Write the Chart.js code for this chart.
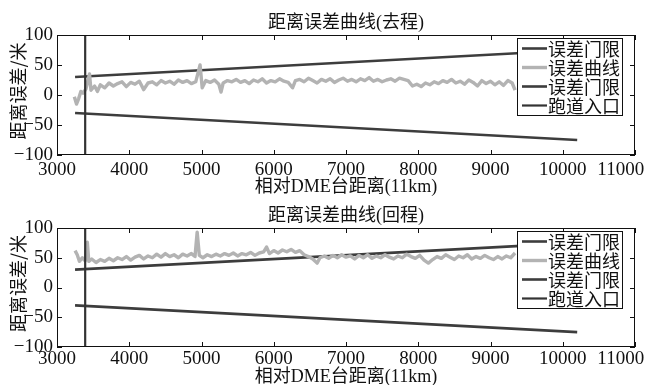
<!DOCTYPE html>
<html>
<head>
<meta charset="utf-8">
<script src="https://cdn.jsdelivr.net/npm/chart.js@4.4.1/dist/chart.umd.min.js"></script>
<style>
    body { margin: 0; background: #fff; width: 649px; height: 385px; overflow: hidden; position: relative; }
    canvas { position: absolute; left: 0; }
    #goChart { top: 0; }
    #backChart { top: 192px; }
</style>
</head>
<body>
<canvas id="goChart" width="649" height="200"></canvas>
<canvas id="backChart" width="649" height="193"></canvas>
<script>
// DME distance error, outbound (去程) and return (回程)

const legendLabels = ['误差门限', '误差曲线', '误差门限', '跑道入口'];
const xTickLabels = ['3000', '4000', '5000', '6000', '7000', '8000', '9000', '10000', '11000'];
const yTickLabels = ['−100', '−50', '0', '50', '100'];

// error limits (straight lines) and runway entrance
const limitDist = [3250, 10200];
const upperLimit = [30, 75];
const lowerLimit = [-30, -75];
const runwayDist = [3390, 3390];
const runwayErr = [-100, 100];

// outbound error curve
const goDist = [
    3240, 3270, 3300, 3330, 3360, 3400, 3450, 3470, 3520, 3560,
    3600, 3660, 3720, 3780, 3840, 3900, 3960, 4020, 4080, 4140,
    4200, 4260, 4320, 4380, 4440, 4500, 4560, 4620, 4680, 4740,
    4800, 4860, 4920, 4980, 5010, 5060, 5120, 5180, 5240, 5270,
    5300, 5360, 5420, 5480, 5540, 5600, 5660, 5720, 5780, 5840,
    5900, 5960, 6020, 6080, 6140, 6200, 6260, 6300, 6360, 6420,
    6480, 6540, 6600, 6660, 6720, 6780, 6840, 6900, 6960, 7020,
    7080, 7140, 7200, 7260, 7320, 7380, 7440, 7500, 7560, 7620,
    7680, 7740, 7800, 7860, 7920, 7980, 8040, 8100, 8160, 8220,
    8280, 8340, 8400, 8460, 8520, 8580, 8640, 8700, 8760, 8820,
    8880, 8940, 9000, 9060, 9120, 9180, 9240, 9300, 9340
];
const goErr = [
    -3, -15, -6, 6, 3, 10, 35, 8, 15, 6,
    17, 12, 20, 15, 19, 22, 14, 21, 18, 23,
    9, 20, 22, 17, 24, 20, 23, 18, 25, 21,
    24, 19, 22, 50, 12, 24, 21, 25, 18, 5,
    20, 24, 22, 26, 21, 24, 19, 25, 22, 27,
    20, 24, 22, 27, 23, 21, 12, 24, 26, 22,
    28, 24, 20, 26, 23, 27, 21, 25, 28, 23,
    26, 22, 27, 24, 29, 23, 26, 22, 25, 27,
    23, 28, 26, 24, 15, 18, 14, 20, 17, 22,
    19, 24, 21, 26, 20, 23, 18, 25, 21, 15,
    24, 19, 23, 17, 22, 16, 24, 20, 8
];

// return error curve
const backDist = [
    3250, 3280, 3310, 3350, 3390, 3420, 3440, 3480, 3540, 3600,
    3660, 3720, 3780, 3840, 3900, 3960, 4020, 4080, 4140, 4200,
    4260, 4320, 4380, 4440, 4500, 4560, 4620, 4680, 4740, 4800,
    4860, 4910, 4940, 4970, 5020, 5080, 5140, 5200, 5260, 5320,
    5380, 5440, 5500, 5560, 5620, 5680, 5740, 5800, 5860, 5900,
    5940, 6000, 6060, 6120, 6180, 6240, 6300, 6360, 6420, 6480,
    6540, 6600, 6640, 6700, 6760, 6820, 6880, 6940, 7000, 7060,
    7120, 7180, 7240, 7300, 7360, 7420, 7480, 7540, 7600, 7660,
    7720, 7780, 7840, 7900, 7960, 8020, 8080, 8140, 8200, 8260,
    8320, 8380, 8440, 8500, 8560, 8620, 8680, 8740, 8800, 8860,
    8920, 8980, 9040, 9100, 9160, 9220, 9280, 9340
];
const backErr = [
    62, 55, 44, 50, 45, 76, 44, 48, 42, 47,
    44, 49, 45, 50, 47, 52, 46, 51, 54, 48,
    53, 50, 56, 51, 57, 52, 55, 50, 56, 53,
    57, 52, 93, 54, 50, 55, 52, 56, 53, 57,
    54, 58, 53, 57, 55, 59, 54, 58, 60, 68,
    57, 62, 58, 63, 60, 64, 59, 62, 55, 52,
    48, 41, 50, 53, 49, 54, 50, 55, 51, 53,
    48, 54, 50, 55, 49, 53, 50, 55, 51, 48,
    53, 50, 56, 52, 49, 54, 46, 41, 47, 52,
    49, 55, 51, 47, 53, 50, 55, 48, 52, 49,
    54, 50, 47, 52, 48, 53, 50, 58
];

const serif = '"Liberation Serif", "Noto Sans CJK SC", serif';
const cjk = '"Noto Sans CJK SC", sans-serif';
const ink = '#111';

function zip(xs, ys) {
    return xs.map((x, i) => ({ x: x, y: ys[i] }));
}

// matlab style box, inward ticks and legend inside the axes
const framePlugin = {
    id: 'frame',
    afterDatasetsDraw(chart) {
        const { ctx, chartArea: a, scales: { x, y } } = chart;
        ctx.save();
        ctx.strokeStyle = ink;
        ctx.lineWidth = 1;
        ctx.strokeRect(Math.round(a.left) + 0.5, Math.round(a.top) + 0.5,
            Math.round(a.width) - 1, Math.round(a.height) - 1);
        ctx.beginPath();
        x.ticks.forEach(t => {
            const px = Math.round(x.getPixelForValue(t.value)) + 0.5;
            ctx.moveTo(px, a.bottom); ctx.lineTo(px, a.bottom - 5);
            ctx.moveTo(px, a.top); ctx.lineTo(px, a.top + 5);
        });
        y.ticks.forEach(t => {
            const py = Math.round(y.getPixelForValue(t.value)) + 0.5;
            ctx.moveTo(a.left, py); ctx.lineTo(a.left + 5, py);
            ctx.moveTo(a.right, py); ctx.lineTo(a.right - 5, py);
        });
        ctx.stroke();

        // legend box
        const lx = Math.round(a.right) - 118, ly = Math.round(a.top) + 3;
        const lw = 105, lh = 77;
        ctx.fillStyle = '#fff';
        ctx.fillRect(lx, ly, lw, lh);
        ctx.strokeStyle = ink;
        ctx.lineWidth = 1;
        ctx.strokeRect(lx + 0.5, ly + 0.5, lw, lh);
        ctx.font = '18px ' + cjk;
        ctx.textBaseline = 'middle';
        ctx.textAlign = 'left';
        chart.data.datasets.forEach((ds, i) => {
            const cy = ly + 10.5 + i * 19;
            ctx.strokeStyle = ds.borderColor;
            ctx.lineWidth = ds.borderWidth;
            ctx.beginPath();
            ctx.moveTo(lx + 5, cy);
            ctx.lineTo(lx + 30, cy);
            ctx.stroke();
            ctx.fillStyle = ink;
            ctx.fillText(ds.label, lx + 31, cy + 1);
        });
        ctx.restore();
    }
};

function makeChart(id, dist, err, title, opt) {
    return new Chart(document.getElementById(id), {
        type: 'line',
        data: {
            datasets: [
                { label: legendLabels[0], data: zip(limitDist, upperLimit), borderColor: '#3d3d3d', borderWidth: 2.6, order: 4 },
                { label: legendLabels[1], data: zip(dist, err), borderColor: '#b3b3b3', borderWidth: 3.4, order: 3 },
                { label: legendLabels[2], data: zip(limitDist, lowerLimit), borderColor: '#3d3d3d', borderWidth: 2.6, order: 2 },
                { label: legendLabels[3], data: zip(runwayDist, runwayErr), borderColor: '#333', borderWidth: 2.2, order: 1 }
            ]
        },
        options: {
            responsive: false,
            animation: false,
            devicePixelRatio: 1,
            elements: {
                point: { radius: 0 },
                line: { tension: 0, borderJoinStyle: 'round' }
            },
            layout: { padding: { left: 0, right: 14, top: 0, bottom: 0 } },
            plugins: {
                legend: { display: false },
                tooltip: { enabled: false },
                title: {
                    display: true,
                    text: title,
                    fullSize: false,
                    color: ink,
                    font: { family: serif, size: 18, weight: 'normal', lineHeight: 1.2 },
                    padding: { top: opt.titleTop, bottom: opt.titleBottom }
                }
            },
            scales: {
                x: {
                    type: 'linear',
                    min: 3000,
                    max: 11000,
                    grid: { display: false, drawTicks: false },
                    border: { display: false },
                    ticks: {
                        stepSize: 1000,
                        autoSkip: false,
                        maxRotation: 0,
                        padding: opt.xTickPad,
                        color: ink,
                        font: { family: serif, size: 19 },
                        callback: (v, i) => i === xTickLabels.length - 1
                            ? xTickLabels[i] + '\u00a0\u00a0\u00a0\u00a0\u00a0\u00a0'
                            : xTickLabels[i]
                    },
                    title: {
                        display: true,
                        text: '相对DME台距离(11km)',
                        color: ink,
                        font: { family: serif, size: 18, lineHeight: 0.5 },
                        padding: { top: 0, bottom: opt.xTitleBottom }
                    },
                    afterFit: s => { s.height = opt.xHeight; s.paddingLeft = 0; s.paddingRight = 0; }
                },
                y: {
                    min: -100,
                    max: 100,
                    grid: { display: false, drawTicks: false },
                    border: { display: false },
                    ticks: {
                        stepSize: 50,
                        padding: 4,
                        color: ink,
                        font: { family: serif, size: 19 },
                        callback: (v, i) => yTickLabels[i]
                    },
                    title: {
                        display: true,
                        text: '\u00a0\u00a0距离误差/米',
                        color: ink,
                        font: { family: cjk, size: 18, lineHeight: 1.2 },
                        padding: { top: 7, bottom: 0 }
                    },
                    afterFit: s => { s.width = 57; s.paddingTop = 0; s.paddingBottom = 0; }
                }
            }
        },
        plugins: [framePlugin]
    });
}

makeChart('goChart', goDist, goErr, '距离误差曲线(去程)',
    { titleTop: 12, titleBottom: 1.4, xTickPad: 4, xTitleBottom: 8, xHeight: 45 });
makeChart('backChart', backDist, backErr, '距离误差曲线(回程)',
    { titleTop: 13, titleBottom: 1.4, xTickPad: 1, xTitleBottom: 3, xHeight: 38 });
</script>
</body>
</html>
